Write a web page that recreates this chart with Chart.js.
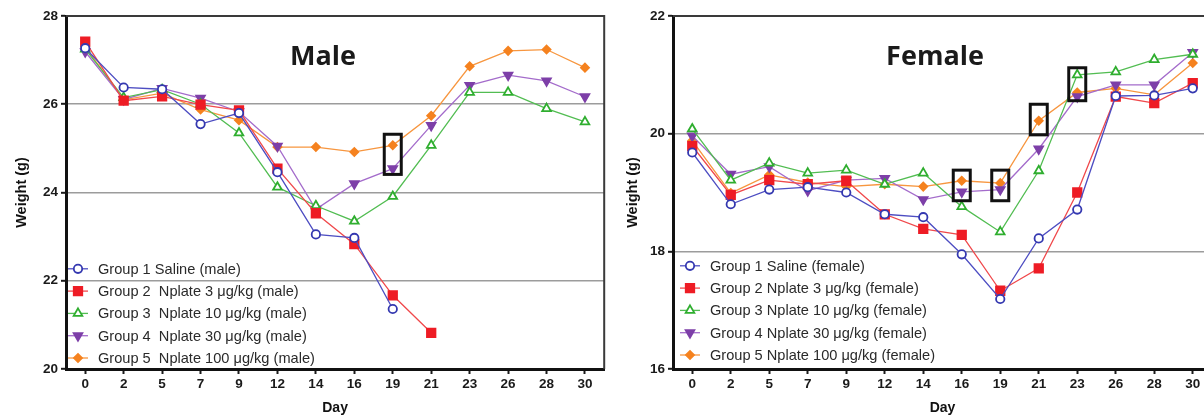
<!DOCTYPE html>
<html>
<head>
<meta charset="utf-8">
<script src="https://cdn.jsdelivr.net/npm/chart.js@4.4.1/dist/chart.umd.min.js"></script>
<style>
  html, body { margin: 0; padding: 0; background: #fff; overflow: hidden; width: 1204px; height: 417px; }
  canvas { position: absolute; top: 0; }
  #male { left: 0; }
  #female { left: 612px; }
</style>
</head>
<body>
<canvas id="male" width="612" height="417"></canvas>
<canvas id="female" width="620" height="417"></canvas>
<script>
const days = ['0', '2', '5', '7', '9', '12', '14', '16', '19', '21', '23', '26', '28', '30'];

const maleLabels = [
    'Group 1 Saline (male)',
    'Group 2  Nplate 3 \u03bcg/kg (male)',
    'Group 3  Nplate 10 \u03bcg/kg (male)',
    'Group 4  Nplate 30 \u03bcg/kg (male)',
    'Group 5  Nplate 100 \u03bcg/kg (male)'
];
const femaleLabels = [
    'Group 1 Saline (female)',
    'Group 2 Nplate 3 \u03bcg/kg (female)',
    'Group 3 Nplate 10 \u03bcg/kg (female)',
    'Group 4 Nplate 30 \u03bcg/kg (female)',
    'Group 5 Nplate 100 \u03bcg/kg (female)'
];

// male weights (g)
const male1 = [27.27, 26.38, 26.34, 25.55, 25.80, 24.46, 23.05, 22.97, 21.36, null, null, null, null, null];
const male2 = [27.42, 26.08, 26.18, 25.99, 25.86, 24.54, 23.53, 22.83, 21.67, 20.82, null, null, null, null];
const male3 = [27.25, 26.15, 26.33, 26.00, 25.35, 24.12, 23.70, 23.35, 23.91, 25.07, 26.27, 26.27, 25.90, 25.60];
const male4 = [27.19, 26.11, 26.36, 26.14, 25.83, 25.05, 23.62, 24.20, 24.54, 25.52, 26.43, 26.66, 26.53, 26.17];
const male5 = [27.30, 26.10, 26.25, 25.88, 25.64, 25.03, 25.03, 24.92, 25.07, 25.74, 26.86, 27.21, 27.24, 26.83];

// female weights (g)
const female1 = [19.68, 18.80, 19.05, 19.09, 19.00, 18.63, 18.58, 17.95, 17.19, 18.22, 18.71, 20.64, 20.65, 20.77];
const female2 = [19.79, 18.96, 19.21, 19.14, 19.20, 18.63, 18.38, 18.28, 17.33, 17.71, 19.00, 20.63, 20.52, 20.86];
const female3 = [20.08, 19.21, 19.50, 19.33, 19.38, 19.14, 19.33, 18.76, 18.33, 19.37, 21.00, 21.05, 21.26, 21.35];
const female4 = [19.96, 19.31, 19.44, 19.03, 19.21, 19.24, 18.88, 19.01, 19.05, 19.74, 20.63, 20.83, 20.83, 21.38];
const female5 = [19.88, 18.99, 19.30, 19.17, 19.10, 19.14, 19.10, 19.20, 19.16, 20.22, 20.70, 20.77, 20.66, 21.20];

// highlighted points (black boxes)
const maleBoxes = [{ day: '19', lo: 24.41, hi: 25.32 }];
const femaleBoxes = [
    { day: '16', lo: 18.86, hi: 19.38 },
    { day: '19', lo: 18.86, hi: 19.38 },
    { day: '21', lo: 19.98, hi: 20.50 },
    { day: '23', lo: 20.56, hi: 21.12 }
];

const styles = [
    { line: '#4d4dc2', point: '#3438b0', fill: '#ffffff', shape: 'circle', r: 4.2, rot: 0 },
    { line: '#f0494c', point: '#ee1c25', fill: '#ee1c25', shape: 'rect', r: 6, rot: 0 },
    { line: '#52bd52', point: '#2fae2f', fill: '#ffffff', shape: 'triangle', r: 5, rot: 0 },
    { line: '#a46ccb', point: '#7d3fa8', fill: '#7d3fa8', shape: 'triangle', r: 5, rot: 180 },
    { line: '#f7963f', point: '#f5821f', fill: '#f5821f', shape: 'rectRot', r: 4, rot: 0 }
];

const FONT = '"Liberation Sans", Arial, sans-serif';

function drawMarker(ctx, s, x, y) {
    ctx.save();
    ctx.strokeStyle = s.point;
    ctx.fillStyle = s.fill;
    ctx.lineWidth = 1.8;
    Chart.helpers.drawPoint(ctx, { pointStyle: s.shape, radius: s.r, rotation: s.rot, borderWidth: 1.8 }, x, y);
    ctx.restore();
}

const decor = {
    id: 'decor',
    afterDatasetsDraw(chart, args, opts) {
        const { ctx, chartArea: a, scales } = chart;
        const x = scales.x, y = scales.y;
        ctx.save();
        // top + right frame
        ctx.strokeStyle = '#3a3a3a';
        ctx.lineWidth = 2;
        ctx.beginPath();
        ctx.moveTo(a.left, a.top);
        ctx.lineTo(a.right, a.top);
        ctx.lineTo(a.right, a.bottom);
        ctx.stroke();

        // boxes round highlighted points
        ctx.strokeStyle = '#111';
        ctx.lineWidth = 3;
        opts.boxes.forEach(b => {
            const cx = x.getPixelForValue(days.indexOf(b.day));
            const t = y.getPixelForValue(b.hi);
            const bt = y.getPixelForValue(b.lo);
            ctx.strokeRect(cx - 8.5, t, 17, bt - t);
        });

        // panel name
        ctx.fillStyle = '#1a1a1a';
        ctx.font = 'bold 27px "Open Sans", sans-serif';
        ctx.textAlign = 'center';
        ctx.textBaseline = 'middle';
        ctx.fillText(opts.name, opts.nameX, opts.nameY);

        // legend inside plot area
        ctx.font = '14.6px ' + FONT;
        ctx.textAlign = 'left';
        chart.data.datasets.forEach((ds, i) => {
            const s = styles[i];
            const ly = a.bottom - opts.legBottom - (4 - i) * opts.legStep;
            const lx = a.left + opts.legLeft;
            ctx.strokeStyle = s.line;
            ctx.lineWidth = 1.3;
            ctx.beginPath();
            ctx.moveTo(lx, ly);
            ctx.lineTo(lx + 20, ly);
            ctx.stroke();
            drawMarker(ctx, s, lx + 10, ly);
            ctx.fillStyle = '#2a2a2a';
            ctx.fillText(ds.label, lx + 30, ly + 1);
        });
        ctx.restore();
    }
};

function makeChart(id, labels, series, yMin, yMax, opt) {
    const datasets = series.map((vals, i) => ({
        label: labels[i],
        data: vals,
        borderColor: styles[i].line,
        borderWidth: 1.3,
        pointStyle: styles[i].shape,
        pointRotation: styles[i].rot,
        pointRadius: styles[i].r,
        pointBorderWidth: 1.8,
        pointBorderColor: styles[i].point,
        pointBackgroundColor: styles[i].fill,
        tension: 0,
        spanGaps: false
    }));
    return new Chart(document.getElementById(id), {
        type: 'line',
        data: { labels: days, datasets: datasets },
        plugins: [decor],
        options: {
            responsive: false,
            animation: false,
            devicePixelRatio: 1,
            layout: { padding: { top: 16, right: opt.padRight, left: 0, bottom: 0 } },
            plugins: {
                legend: { display: false },
                tooltip: { enabled: false },
                decor: opt
            },
            scales: {
                x: {
                    type: 'category',
                    offset: true,
                    afterFit: s => { s.height = 48; },
                    grid: { drawOnChartArea: false, tickLength: 5, tickColor: '#1a1a1a', tickWidth: 2 },
                    border: { color: '#111', width: 3 },
                    ticks: { color: '#1a1a1a', font: { family: FONT, size: 13.5, weight: 'bold' }, padding: 2, maxRotation: 0, autoSkip: false },
                    title: { display: true, text: 'Day', color: '#111', font: { family: FONT, size: 14, weight: 'bold' }, padding: { top: 0, bottom: 0 } }
                },
                y: {
                    min: yMin,
                    max: yMax,
                    afterFit: s => { s.width = opt.axisW; },
                    grid: { color: '#9c9c9c', lineWidth: 1.6, tickLength: 5, tickColor: '#1a1a1a', tickWidth: 2 },
                    border: { color: '#111', width: 3 },
                    ticks: { stepSize: 2, color: '#1a1a1a', font: { family: FONT, size: 13.5, weight: 'bold' }, padding: 3 },
                    title: { display: true, text: 'Weight (g)', color: '#111', font: { family: FONT, size: 14.5, weight: 'bold' }, padding: { top: opt.titlePad, bottom: 0 } }
                }
            }
        }
    });
}

makeChart('male', maleLabels, [male1, male2, male3, male4, male5], 20, 28, {
    name: 'Male', nameX: 323, nameY: 57, boxes: maleBoxes,
    legLeft: 2, legBottom: 11, legStep: 22.3,
    padRight: 7, axisW: 66, titlePad: 13
});

makeChart('female', femaleLabels, [female1, female2, female3, female4, female5], 16, 22, {
    name: 'Female', nameX: 323, nameY: 57, boxes: femaleBoxes,
    legLeft: 7, legBottom: 14, legStep: 22.3,
    padRight: 20, axisW: 61, titlePad: 12
});
</script>
</body>
</html>
